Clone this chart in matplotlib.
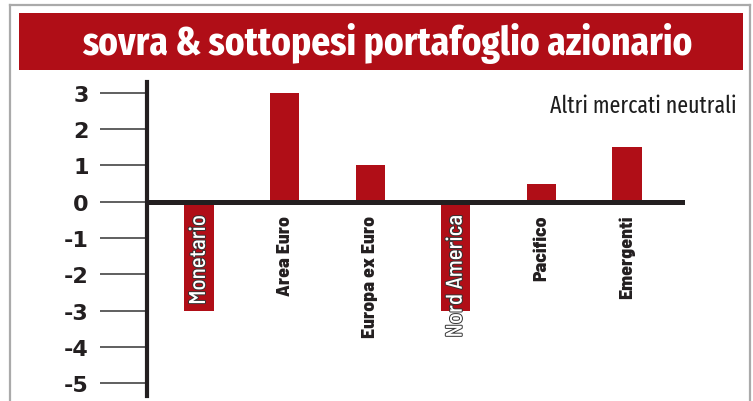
import matplotlib
matplotlib.use("Agg")
import matplotlib.pyplot as plt
from matplotlib.patches import Rectangle
from matplotlib.lines import Line2D
import matplotlib.patheffects as pe

categories = ["Monetario", "Area Euro", "Europa ex Euro", "Nord America", "Pacifico", "Emergenti"]
values = [-3, 3, 1, -3, 0.5, 1.5]
yticks = [3, 2, 1, 0, -1, -2, -3, -4, -5]
title = "sovra & sottopesi portafoglio azionario"
note = "Altri mercati neutrali"

RED = "#b00e17"
DARK = "#231f20"

TITLE_FONT = ["Fira Sans Extra Condensed", "Roboto Condensed", "Barlow Condensed", "DejaVu Sans"]
NOTE_FONT = ["Fira Sans Extra Condensed", "Barlow Condensed", "DejaVu Sans"]
LABEL_FONT = ["Barlow Semi Condensed", "DejaVu Sans"]
NEG_FONT = ["Barlow Semi Condensed", "DejaVu Sans"]

W, H = 753, 402
fig = plt.figure(figsize=(W / 100, H / 100), dpi=100)
fig.patch.set_facecolor("white")


def fx(x):
    return x / W


def fy(y):
    return 1 - y / H


# outer gray frame (left, top, right)
for xs, ys in [((9.5, 9.5), (5.5, 402)), ((9.5, 750), (5.5, 5.5)), ((750, 750), (5.5, 402))]:
    fig.add_artist(Line2D([fx(xs[0]), fx(xs[1])], [fy(ys[0]), fy(ys[1])],
                          transform=fig.transFigure, color="#aaaaaa", lw=1.6))

# title band
fig.add_artist(Rectangle((fx(19), fy(71)), fx(743) - fx(19), fy(14) - fy(71),
                         transform=fig.transFigure, color=RED, lw=0))
t_title = fig.text(fx(387), fy(44), title, color="white", ha="center", va="center",
                   fontsize=26, fontweight="bold", family=TITLE_FONT)

t_note = fig.text(fx(736), fy(113), note, color="#1e1e1e", ha="right", va="baseline",
                  fontsize=16, fontweight="normal", family=NOTE_FONT)

ax = fig.add_axes([fx(147), fy(397), fx(685) - fx(147), fy(83) - fy(397)])
ax.set_facecolor("none")
x = list(range(len(categories)))
ax.bar(x, values, width=0.34, color=RED, zorder=2)
ax.axhline(0, color=DARK, lw=3.6, zorder=3)

ax.set_xlim(-0.607, 5.678)
ax.set_ylim(-5.345, 3.297)
ax.set_yticks(yticks)
ax.set_yticklabels([str(t) for t in yticks], fontsize=16, fontweight="bold",
                   family="DejaVu Sans", color=DARK)
ax.tick_params(axis="y", direction="out", length=34, width=1.2, color="#444444", pad=8)
ax.set_xticks([])
for s in ["top", "right", "bottom"]:
    ax.spines[s].set_visible(False)
ax.spines["left"].set_linewidth(3)
ax.spines["left"].set_color(DARK)

label_len = [90, 81, 125, 122, 65, 81]
labels = []
for xi, (cat, v) in enumerate(zip(categories, values)):
    if v < 0:
        t = ax.annotate(cat, (xi, 0), xytext=(0, -9.5), textcoords="offset points",
                        rotation=90, ha="center", va="top", fontsize=13, fontweight="medium",
                        color="white", family=NEG_FONT, zorder=4,
                        path_effects=[pe.withStroke(linewidth=1.4, foreground="#333333")])
    else:
        t = ax.annotate(cat, (xi, 0), xytext=(0, -9.5), textcoords="offset points",
                        rotation=90, ha="center", va="top", fontsize=14, fontweight=800,
                        color=DARK, family=LABEL_FONT, zorder=4)
    labels.append(t)

# scale fonts so text lengths match the reference
fig.canvas.draw()
r = fig.canvas.get_renderer()
for t, target in [(t_title, 612), (t_note, 186)]:
    w = t.get_window_extent(r).width
    t.set_fontsize(t.get_fontsize() * target / w)
pos_ratio = []
neg_ratio = []
for t, v, target in zip(labels, values, label_len):
    h = t.get_window_extent(r).height
    (neg_ratio if v < 0 else pos_ratio).append(target / h)
pr = sum(pos_ratio) / len(pos_ratio)
nr = sum(neg_ratio) / len(neg_ratio)
for t, v in zip(labels, values):
    t.set_fontsize(t.get_fontsize() * (nr if v < 0 else pr))

fig.savefig("out.png", dpi=100, facecolor="white")
